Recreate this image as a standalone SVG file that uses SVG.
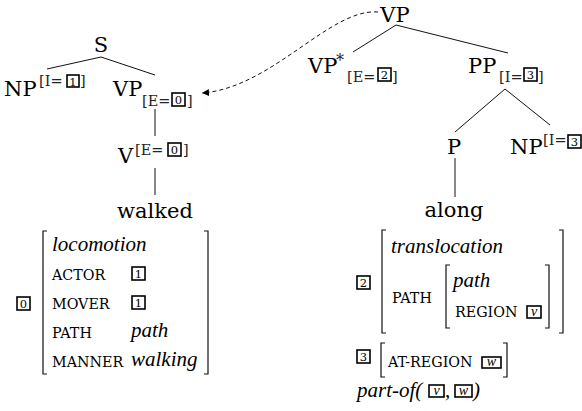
<svg xmlns="http://www.w3.org/2000/svg" width="582" height="411" viewBox="0 0 582 411">
<style>
.n{font-family:"DejaVu Serif",serif;font-size:21px;fill:#000}
.a{font-family:"DejaVu Serif",serif;font-size:14.5px;fill:#222}
.it{font-family:"Liberation Serif",serif;font-style:italic;font-size:21px;fill:#000}
.sc{font-family:"DejaVu Serif",serif;font-size:14.3px;fill:#000}
.bx{fill:none;stroke:#000;stroke-width:1.6}
.bt{font-family:"DejaVu Serif",serif;font-size:11.5px;fill:#000;text-anchor:middle}
.bi{font-family:"Liberation Serif",serif;font-style:italic;font-size:14px;fill:#000;text-anchor:middle}
.e{stroke:#111;stroke-width:1;fill:none}
.br{stroke:#111;stroke-width:1.2;fill:none}
</style>
<defs>
<marker id="ah" markerWidth="8" markerHeight="8" refX="7" refY="4" orient="auto" markerUnits="userSpaceOnUse">
<path d="M0,0.5 L7,4 L0,7.5 Z" fill="#000"/>
</marker>
</defs>
<rect width="582" height="411" fill="#fff"/>
<g id="connectors">
<path class="e" d="M101,57 L47,69"/>
<path class="e" d="M101,57 L155,75"/>
<path class="e" d="M155,109 L155,136"/>
<path class="e" d="M155,168 L155,195"/>
<path class="e" d="M396,25 L353,52"/>
<path class="e" d="M396,25 L508,53"/>
<path class="e" d="M505,89 L455,132"/>
<path class="e" d="M505,89 L550,125"/>
<path class="e" d="M455,158 L455,197"/>
<path class="e" d="M378,12 C330,8 272,88 202,93" stroke-dasharray="4,3" marker-end="url(#ah)"/>
</g>
<g id="S"><text class="n" x="101" y="52" text-anchor="middle">S</text></g>
<g id="NP1">
<text class="n" x="4" y="96">NP</text>
<text class="a" x="39" y="86">[I=</text>
<rect class="bx" x="67" y="75" width="12" height="12"/><text class="bt" x="73" y="85.5">1</text>
<text class="a" x="80" y="86">]</text>
</g>
<g id="VP1">
<text class="n" x="113" y="96">VP</text>
<text class="a" x="142" y="106">[E=</text>
<rect class="bx" x="172" y="93" width="13" height="13"/><text class="bt" x="178.5" y="104">0</text>
<text class="a" x="187" y="106">]</text>
</g>
<g id="V">
<text class="n" x="118" y="163">V</text>
<text class="a" x="135" y="155">[E=</text>
<rect class="bx" x="168" y="143" width="13" height="13"/><text class="bt" x="174.5" y="154">0</text>
<text class="a" x="183" y="155">]</text>
</g>
<g id="walked"><text class="n" x="155" y="218" text-anchor="middle">walked</text></g>
<g id="VP2"><text class="n" x="395" y="22" text-anchor="middle">VP</text></g>
<g id="VPstar">
<text class="n" x="308" y="73">VP</text>
<text class="a" x="336" y="66" style="font-size:16px">*</text>
<text class="a" x="347" y="82">[E=</text>
<rect class="bx" x="378" y="68" width="13" height="13"/><text class="bt" x="384.5" y="79">2</text>
<text class="a" x="392" y="82">]</text>
</g>
<g id="PP">
<text class="n" x="468" y="73">PP</text>
<text class="a" x="499" y="82">[I=</text>
<rect class="bx" x="524" y="68" width="13" height="13"/><text class="bt" x="530.5" y="79">3</text>
<text class="a" x="538" y="82">]</text>
</g>
<g id="P"><text class="n" x="454" y="154" text-anchor="middle">P</text></g>
<g id="NP2">
<text class="n" x="510" y="154">NP</text>
<text class="a" x="543" y="145">[I=</text>
<rect class="bx" x="568" y="135" width="13" height="13"/><text class="bt" x="574.5" y="146">3</text>
</g>
<g id="along"><text class="n" x="454" y="217" text-anchor="middle">along</text></g>
<g id="avm-walked">
<rect class="bx" x="17" y="297" width="13" height="13"/><text class="bt" x="23.5" y="308">0</text>
<path class="br" d="M47,231 H43 V374 H47"/>
<path class="br" d="M204,231 H208 V374 H204"/>
<text class="it" x="52" y="251">locomotion</text>
<text class="sc" x="52" y="280">ACTOR</text>
<rect class="bx" x="132" y="267" width="13" height="13"/><text class="bt" x="138.5" y="278">1</text>
<text class="sc" x="52" y="309">MOVER</text>
<rect class="bx" x="132" y="296" width="13" height="13"/><text class="bt" x="138.5" y="307">1</text>
<text class="sc" x="52" y="338">PATH</text>
<text class="it" x="131" y="337">path</text>
<text class="sc" x="52" y="367">MANNER</text>
<text class="it" x="131" y="366">walking</text>
</g>
<g id="avm-along">
<rect class="bx" x="357" y="276" width="13" height="13"/><text class="bt" x="363.5" y="287">2</text>
<path class="br" d="M386,230 H382 V333 H386"/>
<path class="br" d="M559,230 H563 V333 H559"/>
<text class="it" x="391" y="253">translocation</text>
<text class="sc" x="392" y="303">PATH</text>
<path class="br" d="M450,265 H446 V328 H450"/>
<path class="br" d="M545,265 H549 V328 H545"/>
<text class="it" x="453" y="287">path</text>
<text class="sc" x="455" y="317">REGION</text>
<rect class="bx" x="527" y="306" width="14" height="12"/><text class="bi" x="534" y="316">v</text>
<rect class="bx" x="357" y="350" width="13" height="13"/><text class="bt" x="363.5" y="361">3</text>
<path class="br" d="M385,343 H381 V377 H385"/>
<path class="br" d="M503,343 H507 V377 H503"/>
<text class="sc" x="388" y="367">AT-REGION</text>
<rect class="bx" x="482" y="357" width="19" height="11"/><text class="bi" x="491.5" y="366">w</text>
<text class="it" x="357" y="397">part-of(</text>
<rect class="bx" x="429" y="385" width="15" height="12"/><text class="bi" x="436.5" y="395">v</text>
<text class="it" x="445" y="397">,</text>
<rect class="bx" x="455" y="385" width="17" height="12"/><text class="bi" x="463.5" y="395">w</text>
<text class="it" x="473" y="397">)</text>
</g>
</svg>
